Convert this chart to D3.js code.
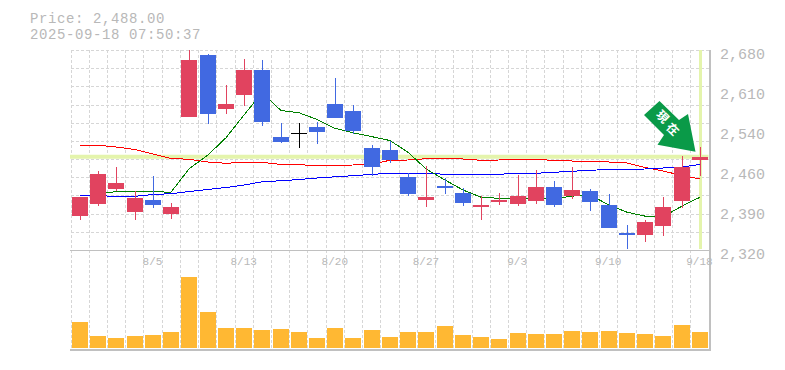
<html>

<head>
	<meta charset="utf-8">
	<title>Price chart</title>
	<style>
		body { margin: 0; background: #fff; }
		svg { display: block; }
		text { font-family: "Liberation Mono", monospace; fill: #b8b8b8; }
	</style>
</head>

<body>
	<script src="https://cdn.jsdelivr.net/npm/d3@7/dist/d3.min.js" charset="utf-8"></script>
	<script>
		var dates = ["7/30", "7/31", "8/1", "8/4", "8/5", "8/6", "8/7", "8/8", "8/12", "8/13", "8/14", "8/15", "8/18", "8/19", "8/20", "8/21", "8/22", "8/25", "8/26", "8/27", "8/28", "8/29", "9/1", "9/2", "9/3", "9/4", "9/5", "9/8", "9/9", "9/10", "9/11", "9/12", "9/16", "9/17", "9/18"];
		var opens = [2381, 2403, 2430, 2388, 2410, 2385, 2559, 2671, 2574, 2599, 2644, 2523, 2531, 2541, 2583, 2570, 2504, 2500, 2451, 2410, 2435, 2423, 2397, 2406, 2403, 2408, 2433, 2417, 2426, 2401, 2351, 2347, 2363, 2408, 2482];
		var highs = [2415, 2462, 2469, 2426, 2453, 2405, 2680, 2673, 2617, 2664, 2662, 2549, 2549, 2550, 2630, 2581, 2509, 2516, 2459, 2471, 2450, 2432, 2417, 2423, 2455, 2464, 2444, 2469, 2430, 2421, 2365, 2374, 2415, 2489, 2505];
		var lows = [2374, 2399, 2426, 2374, 2396, 2376, 2559, 2547, 2565, 2579, 2543, 2513, 2504, 2511, 2558, 2529, 2453, 2477, 2417, 2397, 2421, 2399, 2374, 2401, 2399, 2403, 2397, 2412, 2390, 2360, 2322, 2334, 2345, 2396, 2453];
		var closes = [2415, 2457, 2441, 2414, 2401, 2397, 2662, 2565, 2583, 2644, 2550, 2514, 2531, 2532, 2558, 2534, 2469, 2482, 2421, 2415, 2432, 2405, 2401, 2410, 2417, 2433, 2401, 2428, 2406, 2360, 2347, 2370, 2397, 2469, 2488];
		var volumes = [26, 12, 10, 12, 13, 16, 71, 36, 20, 20, 18, 19, 16, 10, 20, 10, 18, 11, 16, 16, 22, 13, 11, 9, 15, 14, 14, 17, 16, 17, 15, 14, 12, 23, 16];
		var maShort = [null, 2421, 2425, 2426, 2425, 2424, 2466, 2491, 2522, 2563, 2603, 2571, 2567, 2555, 2539, 2531, 2524, 2517, 2496, 2466, 2446, 2428, 2415, 2413, 2413, 2413, 2412, 2417, 2419, 2401, 2388, 2381, 2380, 2399, 2415];
		var maMiddle = [2508.5, 2508.5, 2505.4, 2500.9, 2492.8, 2484.7, 2483.3, 2478.4, 2476.1, 2477.9, 2477.9, 2473.9, 2473.9, 2471.2, 2472.1, 2473, 2474.8, 2481.5, 2482, 2484.3, 2484.3, 2483.8, 2481.5, 2482, 2483.3, 2483.3, 2481.1, 2480.2, 2480.2, 2478.4, 2476.6, 2468.5, 2462.2, 2454.1, 2447.8];
		var maLong = [2417.7, 2417.7, 2416.7, 2416.7, 2419.9, 2421.3, 2425.3, 2428.9, 2432.5, 2437, 2442.8, 2444.7, 2446.9, 2449.6, 2451.8, 2453.7, 2456.1, 2458.1, 2458.1, 2458.1, 2456.3, 2456.3, 2456.3, 2456.3, 2458.1, 2458.1, 2459.9, 2461.7, 2463.5, 2464.9, 2465.3, 2465.8, 2467.6, 2469.4, 2473.9];
		var priceTicks = [2680, 2608, 2536, 2464, 2392, 2320];
		var dateTicks = ["8/5", "8/13", "8/20", "8/27", "9/3", "9/10", "9/18"];
		var updatedAt = "2025-09-18 07:50:37";

		var width = 785;
		var height = 370;
		var left = 70.5;
		var right = 708.5;
		var top_ = 50;
		var priceBottom = 250;
		var volumeBottom = 350;
		var candleWidth = 16;

		var svg = d3.select("body")
			.append("svg")
			.attr("width", width)
			.attr("height", height);

		var x = d3.scaleBand()
			.domain(dates)
			.range([left, right]);
		var y = d3.scaleLinear()
			.domain([2320, 2680])
			.range([priceBottom, top_]);
		var yVolume = d3.scaleLinear()
			.domain([0, d3.max(volumes)])
			.range([348, 277]);

		function center(d) { return Math.round(x(d) + x.bandwidth() / 2 + 0.4); }

		// grid
		var grid = svg.append("g")
			.attr("stroke", "#d6d6d6")
			.attr("stroke-dasharray", "3,2")
			.attr("shape-rendering", "crispEdges");
		d3.range(12).forEach(function (i) {
			var v = 2320 + i * 360 / 11;
			grid.append("line")
				.attr("x1", left).attr("x2", right + 1)
				.attr("y1", Math.round(y(v)) + 0.5).attr("y2", Math.round(y(v)) + 0.5);
		});
		dates.forEach(function (d) {
			grid.append("line")
				.attr("x1", Math.round(x(d)) + 0.5).attr("x2", Math.round(x(d)) + 0.5)
				.attr("y1", top_).attr("y2", volumeBottom);
		});

		// frame
		var frame = svg.append("g")
			.attr("stroke", "#c0c0c0")
			.attr("shape-rendering", "crispEdges");
		frame.append("line").attr("x1", 70).attr("x2", 710).attr("y1", priceBottom + 0.5).attr("y2", priceBottom + 0.5);
		frame.append("line").attr("x1", 70).attr("x2", 711).attr("y1", volumeBottom).attr("y2", volumeBottom).attr("stroke-width", 2);
		frame.append("line").attr("x1", 710).attr("x2", 710).attr("y1", top_).attr("y2", volumeBottom).attr("stroke-width", 2);

		// current price cross
		var lastDate = dates[dates.length - 1];
		var lastClose = closes[closes.length - 1];
		svg.append("line")
			.attr("x1", 70).attr("x2", right)
			.attr("y1", y(lastClose)).attr("y2", y(lastClose))
			.attr("stroke", "#e4f4ac")
			.attr("stroke-width", 4);
		svg.append("line")
			.attr("x1", center(lastDate) + 0.5).attr("x2", center(lastDate) + 0.5)
			.attr("y1", top_).attr("y2", priceBottom - 1)
			.attr("stroke", "#e4f4ac")
			.attr("stroke-width", 3);

		// moving averages
		var line = d3.line()
			.defined(function (d) { return d[1] !== null; })
			.x(function (d) { return center(d[0]); })
			.y(function (d) { return y(d[1]); });
		[[maMiddle, "#ff0000"], [maLong, "#0000ff"], [maShort, "#008000"]].forEach(function (s) {
			svg.append("path")
				.attr("d", line(d3.zip(dates, s[0])))
				.attr("fill", "none")
				.attr("stroke", s[1])
				.attr("stroke-width", 1)
				.attr("shape-rendering", "crispEdges");
		});

		// candles
		function candleColor(i) {
			if (closes[i] > opens[i]) return "#e1435f";
			if (closes[i] < opens[i]) return "#4169e1";
			return "#000000";
		}
		var candles = svg.selectAll("g.candle")
			.data(dates)
			.enter()
			.append("g")
			.attr("class", "candle")
			.attr("shape-rendering", "crispEdges")
			.attr("fill", function (d, i) { return candleColor(i); });
		candles.append("rect")
			.attr("x", function (d) { return center(d); })
			.attr("width", 1)
			.attr("y", function (d, i) { return Math.round(y(highs[i])); })
			.attr("height", function (d, i) { return Math.round(y(lows[i])) - Math.round(y(highs[i])); });
		candles.append("rect")
			.attr("x", function (d) { return center(d) - candleWidth / 2; })
			.attr("width", candleWidth)
			.attr("y", function (d, i) { return Math.round(y(Math.max(opens[i], closes[i]))); })
			.attr("height", function (d, i) { return Math.max(1, Math.round(Math.abs(y(opens[i]) - y(closes[i])))); });

		// volume
		svg.selectAll("rect.volume")
			.data(dates)
			.enter()
			.append("rect")
			.attr("class", "volume")
			.attr("shape-rendering", "crispEdges")
			.attr("x", function (d) { return center(d) - candleWidth / 2; })
			.attr("width", candleWidth)
			.attr("y", function (d, i) { return yVolume(volumes[i]); })
			.attr("height", function (d, i) { return 348 - yVolume(volumes[i]); })
			.attr("fill", "#ffb833");

		// axes
		var yAxis = d3.axisRight(y)
			.tickValues(priceTicks)
			.tickSize(0)
			.tickPadding(0)
			.tickFormat(function (d) { return d3.format(",")(Math.round(d / 10) * 10); });
		var yG = svg.append("g").attr("transform", "translate(720,0)").call(yAxis);
		yG.select(".domain").remove();
		yG.selectAll("text")
			.attr("dy", 8)
			.attr("font-size", 15)
			.attr("font-family", "Liberation Mono");

		var xAxis = d3.axisBottom(x)
			.tickValues(dateTicks)
			.tickSize(0)
			.tickPadding(0);
		var xG = svg.append("g").attr("transform", "translate(0,265)").call(xAxis);
		xG.select(".domain").remove();
		xG.selectAll("text")
			.attr("y", 0)
			.attr("dy", 0)
			.attr("font-size", 11)
			.attr("font-family", "Liberation Mono");

		// title
		svg.append("text")
			.attr("x", 30).attr("y", 22.5)
			.attr("font-size", 14)
			.attr("letter-spacing", 0.6)
			.text("Price: " + d3.format(",.2f")(lastClose));
		svg.append("text")
			.attr("x", 30).attr("y", 38.5)
			.attr("font-size", 14)
			.attr("letter-spacing", 0.6)
			.text(updatedAt);

		// arrow on the last candle
		var arrow = svg.append("g")
			.attr("transform", "translate(" + center(lastDate) + "," + y(lastClose) + ")");
		arrow.append("path")
			.attr("d", "M-40.5,-55.7 L-56,-41.7 L-36,-21.7 L-42.5,-12 L-4.5,-5 L-12,-42.7 L-21,-36.7 Z")
			.attr("fill", "#0a9a48");
		arrow.selectAll("text")
			.data(["現", "在"])
			.enter()
			.append("text")
			.attr("transform", function (d, i) { return "translate(" + (-37.5 + i * 10.2) + "," + (-40 + i * 12.6) + ") rotate(45)"; })
			.attr("text-anchor", "middle")
			.attr("dy", "0.36em")
			.attr("font-size", 12)
			.attr("font-weight", "bold")
			.style("font-family", "'Noto Sans CJK JP'")
			.style("fill", "#ffffff")
			.text(function (d) { return d; });
	</script>
</body>

</html>
